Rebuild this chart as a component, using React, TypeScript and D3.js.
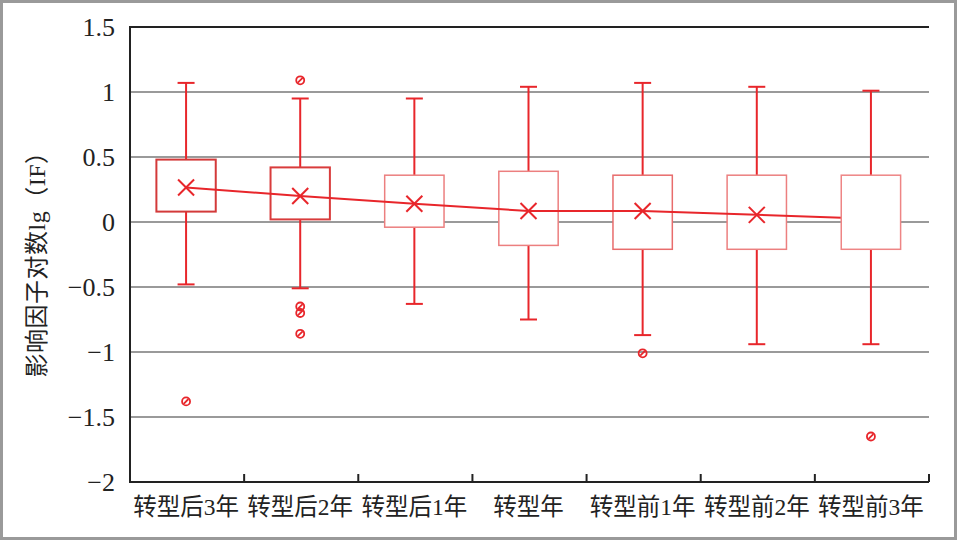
import * as d3 from "d3";

const CATEGORIES = ["转型后3年", "转型后2年", "转型后1年", "转型年", "转型前1年", "转型前2年", "转型前3年"];
const WHISKER_HIGH = [1.07, 0.95, 0.95, 1.04, 1.07, 1.04, 1.01];
const Q3 = [0.48, 0.42, 0.36, 0.39, 0.36, 0.36, 0.36];
const Q1 = [0.08, 0.02, -0.04, -0.18, -0.21, -0.21, -0.21];
const MEANS = [0.265, 0.2, 0.14, 0.085, 0.085, 0.055, 0.025];
const WHISKER_LOW = [-0.48, -0.51, -0.63, -0.75, -0.87, -0.94, -0.94];
const OUTLIERS = [[-1.38], [1.09, -0.65, -0.7, -0.86], [], [], [-1.01], [], [-1.65]];
// the last mean marker is hidden behind its box in the original
const MEAN_VISIBLE = [true, true, true, true, true, true, false];
const Y_TICKS = [1.5, 1, 0.5, 0, -0.5, -1, -1.5, -2];

const W = 957;
const H = 540;
const margin = { top: 27, right: 28, bottom: 58, left: 130 };
const RED = "#e8262b";
const BOX_STROKE = ["#d33a3a", "#d93c3c", "#ec7f7f", "#ec7f7f", "#e86c6c", "#ec7f7f", "#ee8585"];

const fmt = (v: number) => (v < 0 ? "\u2212" + String(-v) : String(v));

export default function App() {
  const x = d3
    .scaleBand<string>()
    .domain(CATEGORIES)
    .range([margin.left, W - margin.right])
    .padding(0);
  const y = d3.scaleLinear().domain([-2, 1.5]).range([H - margin.bottom, margin.top]);
  const bw = x.bandwidth();
  const boxW = bw * 0.52;
  const capW = 17;
  const cx = (i: number) => (x(CATEGORIES[i]) ?? 0) + bw / 2 - 1;

  const meanLine = d3
    .line<number>()
    .x((_, i) => cx(i))
    .y((d) => y(d));

  const x0 = margin.left;
  const x1 = W - margin.right;
  const serif = "'Liberation Serif', 'Times New Roman', 'Noto Sans CJK SC', serif";

  const box = (i: number) => (
    <rect
      key={"b" + i}
      x={cx(i) - boxW / 2}
      y={y(Q3[i])}
      width={boxW}
      height={y(Q1[i]) - y(Q3[i])}
      fill="#fff"
      stroke={BOX_STROKE[i]}
      strokeWidth={i < 2 ? 2 : 1.5}
    />
  );

  return (
    <svg
      width={W}
      height={H}
      viewBox={`0 0 ${W} ${H}`}
      style={{ position: "absolute", left: 0, top: 0, background: "#fff" }}
    >
      <rect x={1.5} y={1.5} width={W - 3} height={H - 3} fill="#fff" stroke="#9a9a9a" strokeWidth={3} />

      {/* grid lines */}
      {Y_TICKS.filter((t) => t !== 1.5 && t !== -2).map((t) => (
        <line key={t} x1={x0} x2={x1} y1={y(t)} y2={y(t)} stroke="#9a9a9a" strokeWidth={2} />
      ))}
      <line x1={x0} x2={x1} y1={y(1.5)} y2={y(1.5)} stroke="#222" strokeWidth={2} />

      {/* y tick labels */}
      {Y_TICKS.map((t) => (
        <text
          key={"t" + t}
          x={x0 - 15}
          y={y(t)}
          dy="0.35em"
          textAnchor="end"
          fontFamily={serif}
          fontSize={26}
          fill="#222"
        >
          {fmt(t)}
        </text>
      ))}

      {/* whiskers */}
      {CATEGORIES.map((c, i) => (
        <g key={"w" + c} stroke={RED} strokeWidth={2}>
          <line x1={cx(i)} x2={cx(i)} y1={y(WHISKER_HIGH[i])} y2={y(Q3[i])} />
          <line x1={cx(i)} x2={cx(i)} y1={y(Q1[i])} y2={y(WHISKER_LOW[i])} />
          <line x1={cx(i) - capW / 2} x2={cx(i) + capW / 2} y1={y(WHISKER_HIGH[i])} y2={y(WHISKER_HIGH[i])} />
          <line x1={cx(i) - capW / 2} x2={cx(i) + capW / 2} y1={y(WHISKER_LOW[i])} y2={y(WHISKER_LOW[i])} />
        </g>
      ))}

      {/* boxes under the mean line */}
      {CATEGORIES.map((_, i) => (MEAN_VISIBLE[i] ? box(i) : null))}

      <path d={meanLine(MEANS) ?? ""} fill="none" stroke={RED} strokeWidth={2} />

      {/* boxes drawn over the mean line */}
      {CATEGORIES.map((_, i) => (MEAN_VISIBLE[i] ? null : box(i)))}

      {/* mean markers */}
      {MEANS.map((m, i) =>
        MEAN_VISIBLE[i] ? (
          <g key={"m" + i} stroke={RED} strokeWidth={2}>
            <line x1={cx(i) - 8} x2={cx(i) + 8} y1={y(m) - 8} y2={y(m) + 8} />
            <line x1={cx(i) - 8} x2={cx(i) + 8} y1={y(m) + 8} y2={y(m) - 8} />
          </g>
        ) : null
      )}

      {/* outliers */}
      {OUTLIERS.map((vals, i) =>
        vals.map((v, j) => (
          <g key={"o" + i + "-" + j} stroke={RED} strokeWidth={1.8} fill="none">
            <circle cx={cx(i)} cy={y(v)} r={4} />
            <line x1={cx(i) - 2.4} x2={cx(i) + 2.4} y1={y(v) + 2.4} y2={y(v) - 2.4} />
          </g>
        ))
      )}

      {/* axes */}
      <line x1={x0} x2={x0} y1={y(1.5) - 1} y2={y(-2) + 1} stroke="#222" strokeWidth={2} />
      <line x1={x0} x2={x1} y1={y(-2)} y2={y(-2)} stroke="#222" strokeWidth={2} />
      {CATEGORIES.map((c) => {
        const tx = (x(c) ?? 0) + bw;
        return <line key={"k" + c} x1={tx} x2={tx} y1={y(-2)} y2={y(-2) - 8} stroke="#222" strokeWidth={2} />;
      })}

      {/* category labels */}
      {CATEGORIES.map((c, i) => (
        <text
          key={"c" + c}
          x={cx(i)}
          y={y(-2) + 33}
          textAnchor="middle"
          fontFamily={serif}
          fontSize={23.5}
          fill="#222"
        >
          {c}
        </text>
      ))}

      <text
        transform={`translate(45,${(margin.top + H - margin.bottom) / 2 + 4}) rotate(-90)`}
        textAnchor="middle"
        fontFamily={serif}
        fontSize={24}
        letterSpacing={0.5}
        fill="#222"
      >
        影响因子对数lg（IF）
      </text>
    </svg>
  );
}
